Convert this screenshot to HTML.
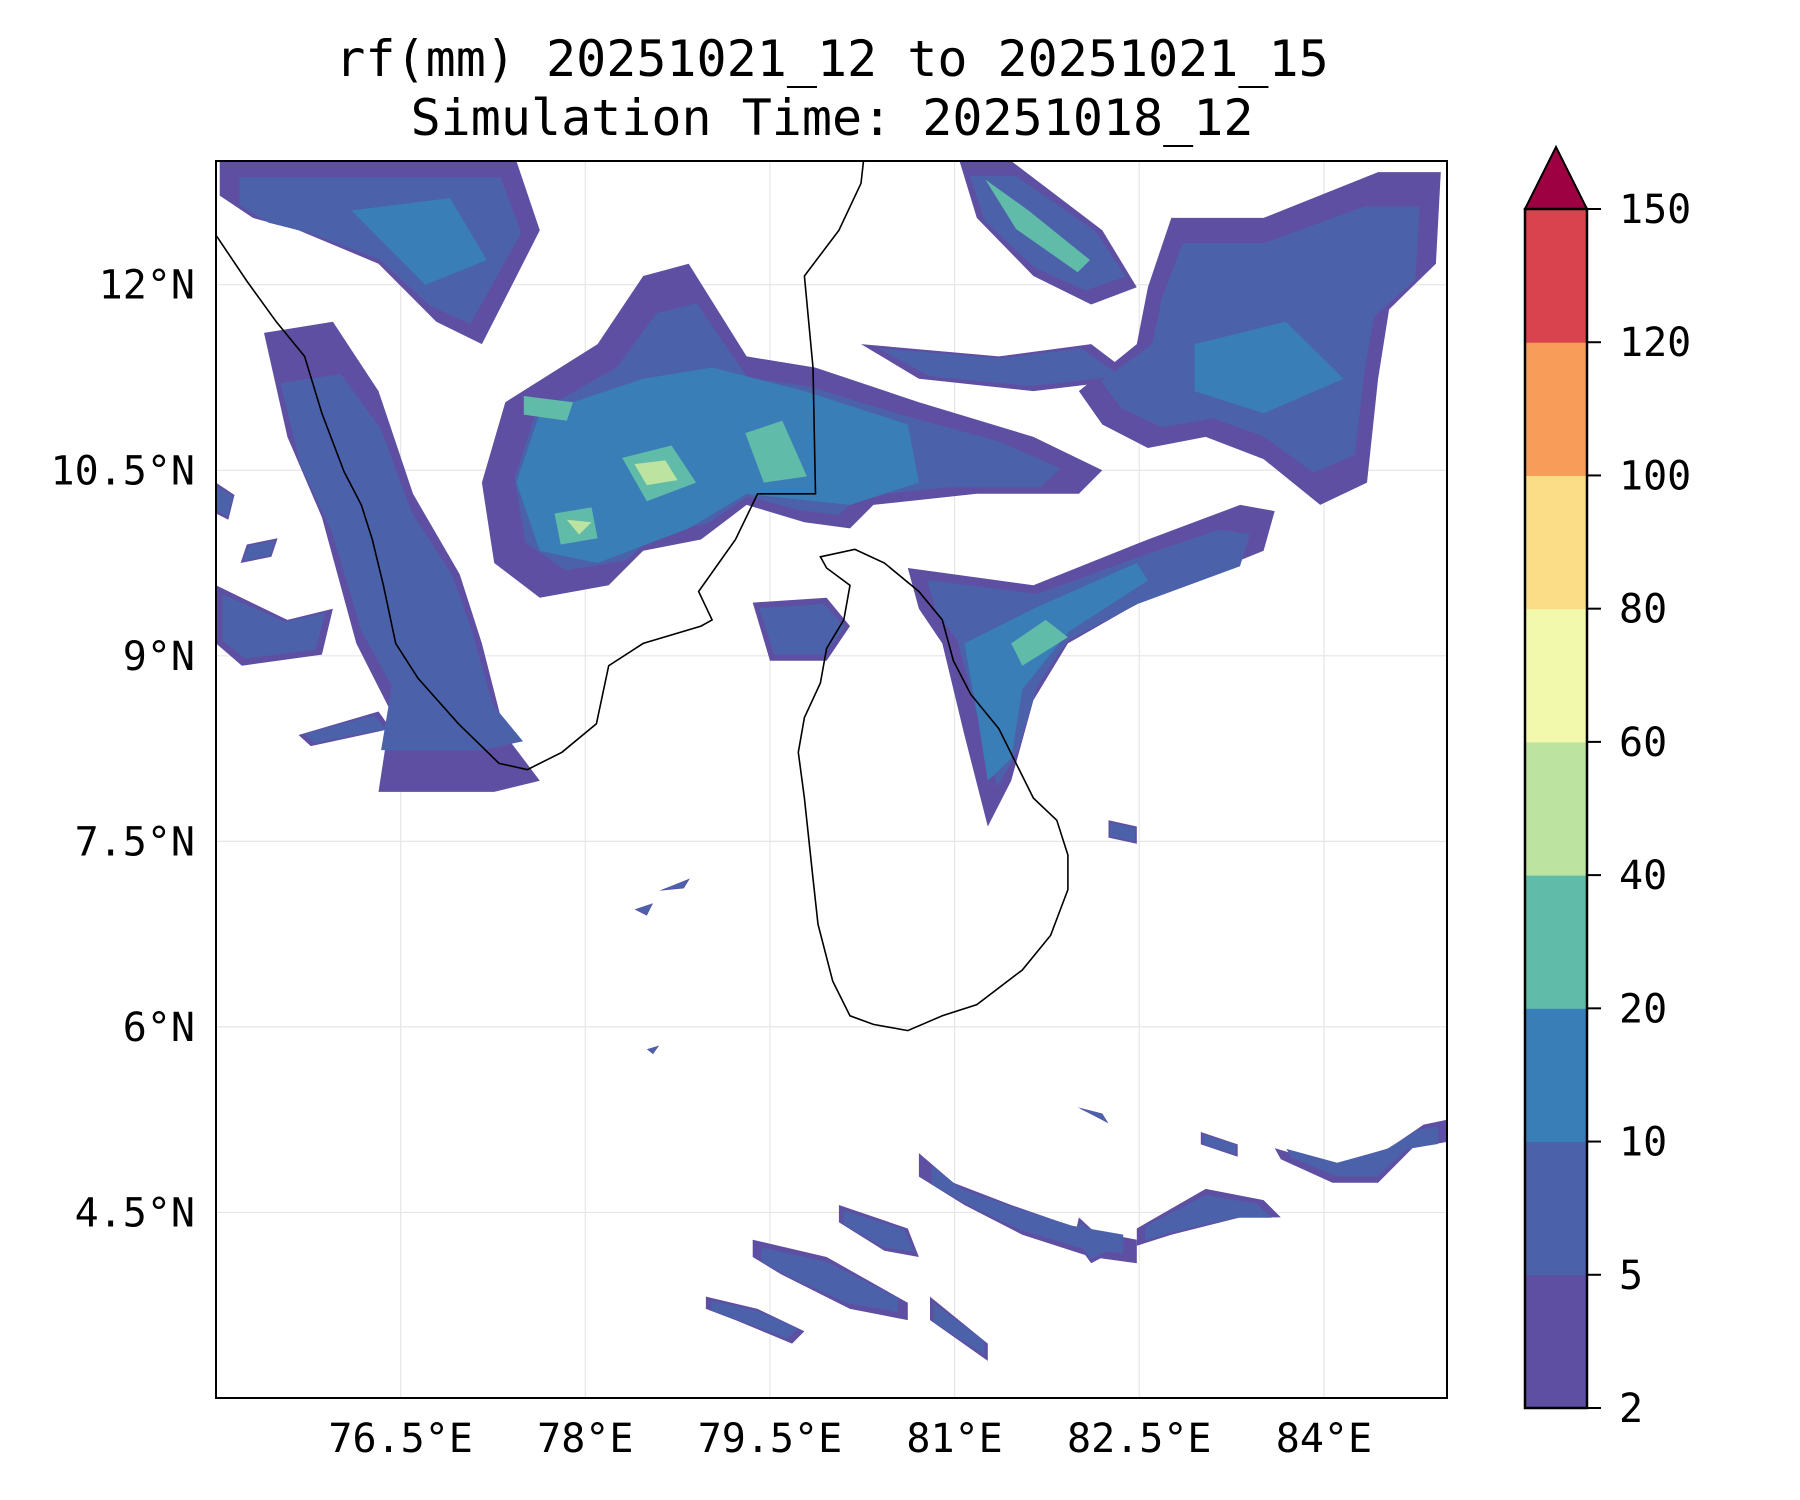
<!DOCTYPE html>
<html><head><meta charset="utf-8"><style>
html,body{margin:0;padding:0;background:#fff;}
svg{display:block;font-family:"DejaVu Sans Mono","Liberation Mono",monospace;}
</style></head><body>
<svg id="chart" width="1800" height="1500" viewBox="0 0 1800 1500">
<text x="832" y="76" font-size="50" text-anchor="middle">rf(mm) 20251021_12 to 20251021_15</text>
<text x="832" y="135" font-size="50" text-anchor="middle">Simulation Time: 20251018_12</text>
<g id="grid"></g><g id="fills"></g><g id="coast"></g><g id="axes"></g><g id="cbar"></g>
</svg>
<script>
const levels=[2,5,10,20,40,60,80,100,120,150];
const levelColors=["#5e4fa2","#4b62ab","#3a7eb8","#60bba8","#bde3a0","#f2f9ac","#fbdd88","#f89c59","#d8434e"];
const extendColor="#9e0142";
const latTicks=[12,10.5,9,7.5,6,4.5];
const lonTicks=[76.5,78,79.5,81,82.5,84];
const rain2=[
[[77.35,11.05],[78.10,11.52],[78.47,12.07],[78.84,12.17],[79.31,11.42],[79.87,11.33],[80.71,11.05],[81.64,10.77],[82.20,10.50],[82.01,10.31],[81.18,10.31],[80.34,10.22],[80.15,10.03],[79.78,10.08],[79.31,10.22],[78.94,9.94],[78.47,9.85],[78.19,9.57],[77.63,9.47],[77.26,9.75],[77.16,10.40]],
[[75.03,13],[77.44,13],[77.63,12.44],[77.35,11.89],[77.16,11.52],[76.79,11.70],[76.32,12.17],[75.67,12.44],[75.30,12.54],[75.03,12.72]],
[[75.39,11.61],[75.95,11.70],[76.32,11.14],[76.60,10.31],[76.98,9.66],[77.16,9.10],[77.35,8.36],[77.63,7.99],[77.26,7.90],[76.32,7.90],[76.42,8.55],[76.14,9.10],[75.86,10.12],[75.58,10.77]],
[[81.04,13],[81.46,13],[82.20,12.44],[82.48,11.98],[82.11,11.84],[81.64,12.07],[81.18,12.54]],
[[82.76,12.54],[83.51,12.54],[84.44,12.91],[84.95,12.91],[84.91,12.17],[84.53,11.80],[84.44,11.24],[84.35,10.40],[83.97,10.22],[83.51,10.59],[83.04,10.77],[82.57,10.68],[82.20,10.87],[82.01,11.14],[82.48,11.52],[82.57,11.98]],
[[80.24,11.52],[81.36,11.42],[82.11,11.52],[82.48,11.24],[81.64,11.14],[80.71,11.24]],
[[80.62,9.71],[81.64,9.57],[82.57,9.94],[83.32,10.22],[83.60,10.17],[83.51,9.85],[82.57,9.47],[81.92,9.10],[81.64,8.64],[81.46,7.99],[81.27,7.62],[81.08,8.36],[80.90,9.10],[80.71,9.38]],
[[79.36,9.43],[79.96,9.47],[80.15,9.24],[79.96,8.96],[79.50,8.96]],
[[75,9.57],[75.58,9.29],[75.95,9.38],[75.86,9.01],[75.21,8.92],[75,9.10]],
[[75.67,8.36],[76.32,8.55],[76.42,8.41],[75.77,8.27]],
[[82.25,7.67],[82.48,7.62],[82.48,7.48],[82.25,7.53]],
[[83.60,5.02],[84.07,4.88],[84.53,5.02],[84.81,5.21],[85,5.25],[85,5.07],[84.72,5.02],[84.44,4.74],[84.07,4.74],[83.65,4.93]],
[[82.48,4.37],[83.04,4.69],[83.51,4.60],[83.65,4.46],[83.32,4.46],[82.76,4.32],[82.48,4.23]],
[[80.71,4.98],[80.99,4.74],[81.46,4.56],[82.01,4.37],[82.48,4.28],[82.48,4.09],[82.11,4.14],[81.55,4.32],[81.08,4.56],[80.71,4.79]],
[[80.06,4.56],[80.62,4.37],[80.71,4.14],[80.43,4.19],[80.06,4.42]],
[[79.36,4.28],[79.96,4.14],[80.62,3.77],[80.62,3.63],[80.15,3.72],[79.59,4.00],[79.36,4.14]],
[[78.98,3.82],[79.40,3.72],[79.78,3.54],[79.68,3.44],[79.22,3.63],[78.98,3.72]],
[[80.80,3.82],[81.27,3.44],[81.27,3.30],[80.80,3.63]],
[[82.01,4.46],[82.30,4.19],[82.11,4.09],[81.97,4.28]],
[[75,10.4],[75.15,10.3],[75.1,10.1],[75,10.15]],
[[75.25,9.9],[75.5,9.95],[75.45,9.8],[75.2,9.75]],
[[78.6,7.1],[78.85,7.2],[78.8,7.12]],
[[78.4,6.95],[78.55,7.0],[78.5,6.9]],
[[78.5,5.82],[78.6,5.85],[78.55,5.78]],
[[82.0,5.35],[82.2,5.3],[82.25,5.22]],
[[83.0,5.15],[83.3,5.05],[83.3,4.95],[83.0,5.05]]
];
const rain10=[
[[77.63,10.96],[78.47,11.24],[79.03,11.33],[79.78,11.14],[80.62,10.87],[80.71,10.40],[80.15,10.22],[79.31,10.31],[78.84,10.03],[78.10,9.75],[77.63,9.85],[77.44,10.40]],
[[82.95,11.52],[83.69,11.70],[84.16,11.24],[83.51,10.96],[82.95,11.14]],
[[81.08,9.10],[81.64,9.38],[82.48,9.75],[82.57,9.61],[81.92,9.19],[81.55,8.73],[81.46,8.17],[81.27,7.99],[81.18,8.55]],
[[76.1,12.6],[76.9,12.7],[77.2,12.2],[76.7,12.0]]
];
const rain20=[
[[78.3,10.6],[78.7,10.7],[78.9,10.4],[78.5,10.25]],
[[77.75,10.15],[78.05,10.2],[78.1,9.95],[77.8,9.9]],
[[79.3,10.8],[79.6,10.9],[79.8,10.45],[79.45,10.4]],
[[77.5,11.1],[77.9,11.05],[77.85,10.9],[77.5,10.95]],
[[81.46,9.10],[81.74,9.29],[81.92,9.15],[81.55,8.92]],
[[81.25,12.85],[81.6,12.6],[82.1,12.2],[82.0,12.1],[81.5,12.45]]
];
const rain40=[[[78.4,10.55],[78.65,10.58],[78.75,10.42],[78.5,10.38]],[[77.85,10.1],[78.05,10.08],[77.95,9.98]]];
const coastIndia=[[75,12.40],[75.25,12.03],[75.49,11.70],[75.72,11.42],[75.86,10.96],[76.04,10.49],[76.18,10.22],[76.27,9.94],[76.36,9.57],[76.46,9.10],[76.64,8.82],[76.97,8.45],[77.30,8.13],[77.53,8.08],[77.81,8.22],[78.09,8.45],[78.19,8.92],[78.47,9.10],[78.94,9.24],[79.03,9.29],[78.92,9.52],[79.22,9.94],[79.40,10.31],[79.87,10.31],[79.85,11.33],[79.78,12.07],[80.06,12.44],[80.24,12.82],[80.26,13]];
const coastLanka=[[79.91,9.80],[80.19,9.86],[80.43,9.75],[80.71,9.52],[80.90,9.29],[80.99,8.96],[81.13,8.69],[81.36,8.41],[81.50,8.13],[81.64,7.85],[81.83,7.67],[81.92,7.39],[81.92,7.11],[81.78,6.74],[81.55,6.46],[81.18,6.18],[80.90,6.09],[80.62,5.97],[80.34,6.02],[80.15,6.09],[80.01,6.37],[79.89,6.83],[79.85,7.20],[79.78,7.85],[79.73,8.22],[79.78,8.50],[79.91,8.78],[79.96,9.06],[80.10,9.29],[80.15,9.57],[79.96,9.71]];

const NS="http://www.w3.org/2000/svg";
const X0=216,X1=1447,Y0=161,Y1=1398,LON0=75,LON1=85,LAT0=3,LAT1=13;
const xs=lon=>X0+(lon-LON0)/(LON1-LON0)*(X1-X0);
const ys=lat=>Y1-(lat-LAT0)/(LAT1-LAT0)*(Y1-Y0);
function mk(tag,attrs,parent){const e=document.createElementNS(NS,tag);for(const k in attrs)e.setAttribute(k,attrs[k]);parent.appendChild(e);return e;}
const pts=p=>p.map(q=>xs(q[0]).toFixed(1)+","+ys(q[1]).toFixed(1)).join(" ");

const grid=document.getElementById("grid");
latTicks.forEach(v=>{const l=mk("line",{x1:X0,x2:X1,y1:ys(v),y2:ys(v),stroke:"#e6e6e6","stroke-width":1.2},grid);

});
lonTicks.forEach(v=>{const l=mk("line",{y1:Y0,y2:Y1,x1:xs(v),x2:xs(v),stroke:"#e6e6e6","stroke-width":1.2},grid);

});

const fills=document.getElementById("fills");
[[rain2,0],[rain2,1],[rain10,2],[rain20,3],[rain40,4]].forEach(([set,li],si)=>{
 set.forEach(p=>{
  let pp=p;
  if(si===1){const cx=p.reduce((a,q)=>a+q[0],0)/p.length,cy=p.reduce((a,q)=>a+q[1],0)/p.length;pp=p.map(q=>[cx+(q[0]-cx)*0.88,cy+(q[1]-cy)*0.8]);}
  const e=mk("polygon",{points:pts(pp),fill:levelColors[li]},fills);
  
  
 });
});
const coast=document.getElementById("coast");
const c1=mk("polyline",{points:pts(coastIndia),fill:"none",stroke:"#000","stroke-width":1.6},coast);


const c2=mk("polygon",{points:pts(coastLanka),fill:"none",stroke:"#000","stroke-width":1.6},coast);



const axes=document.getElementById("axes");
const fr=mk("rect",{x:X0,y:Y0,width:X1-X0,height:Y1-Y0,fill:"none",stroke:"#000","stroke-width":2},axes);


latTicks.forEach(v=>{const t=mk("text",{x:195,y:ys(v)+14,"font-size":40,"text-anchor":"end"},axes);t.textContent=v+"°N";

});
lonTicks.forEach(v=>{const t=mk("text",{x:xs(v),y:1452,"font-size":40,"text-anchor":"middle"},axes);t.textContent=v+"°E";

});

const cb=document.getElementById("cbar");
const CX0=1525,CX1=1587,CT=209,CB=1408,seg=(CB-CT)/(levels.length-1);
levelColors.forEach((c,i)=>{const r=mk("rect",{x:CX0,y:CB-(i+1)*seg,width:CX1-CX0,height:seg+0.5,fill:c},cb);

});
const tri=mk("polygon",{points:`${CX0},${CT} ${(CX0+CX1)/2},147 ${CX1},${CT}`,fill:extendColor,stroke:"#000","stroke-width":2},cb);


const cbf=mk("rect",{x:CX0,y:CT,width:CX1-CX0,height:CB-CT,fill:"none",stroke:"#000","stroke-width":2.5},cb);


levels.forEach((v,i)=>{const y=CB-i*seg;
 const tk=mk("line",{x1:CX1,x2:CX1+14,y1:y,y2:y,stroke:"#000","stroke-width":2},cb);
 
 
 const t=mk("text",{x:1619,y:y+14,"font-size":40},cb);t.textContent=v;
 
 });
</script>
</body></html>
